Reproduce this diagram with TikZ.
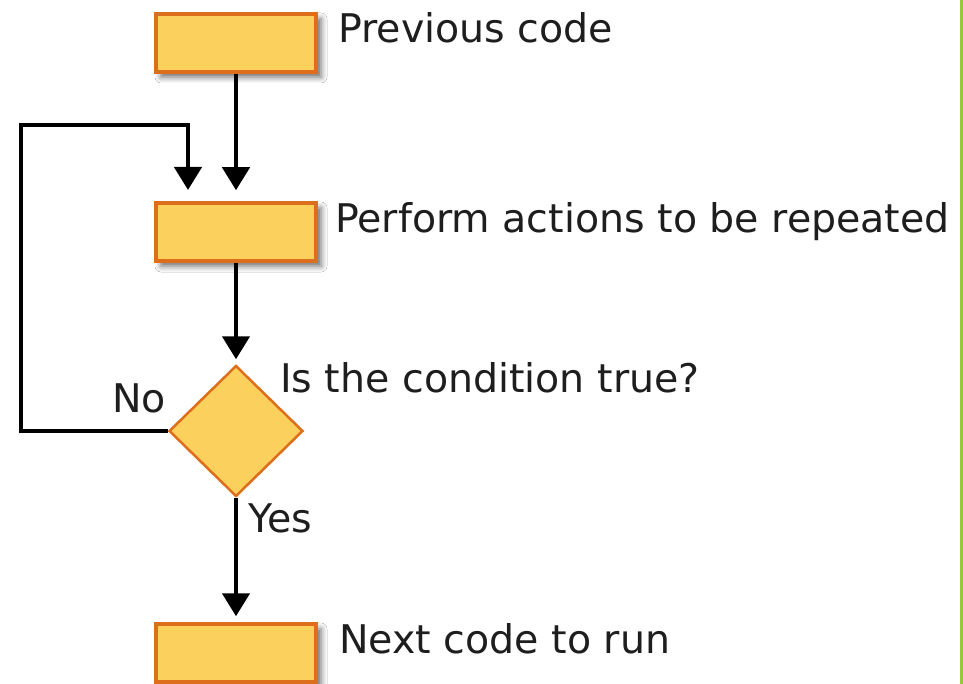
\documentclass[tikz,border=0pt]{standalone}
\usepackage{fontspec}
\setmainfont{DejaVu Sans}
\usetikzlibrary{arrows.meta,shapes.geometric,shadows.blur}
\definecolor{boxfill}{RGB}{252,208,92}
\definecolor{boxline}{RGB}{220,110,28}
\definecolor{txt}{RGB}{30,30,30}
\definecolor{edge}{RGB}{150,200,60}
\tikzset{
  box/.style={draw=boxline,fill=boxfill,line width=3.5pt,minimum width=160pt,minimum height=58pt,inner sep=0pt,
    blur shadow={shadow xshift=5pt,shadow yshift=-5pt,shadow blur radius=6pt,shadow opacity=60}},
  dia/.style={diamond,draw=boxline,fill=boxfill,line width=2.5pt,minimum width=134pt,minimum height=131pt,inner sep=0pt},
  arr/.style={line width=4.5pt,-{Triangle[width=27pt,length=23pt]}},
  lbl/.style={anchor=base west,inner sep=0pt,text=txt,font=\fontsize{39.5}{47}\selectfont}
}
\begin{document}
\begin{tikzpicture}[x=1pt,y=-1pt]
\useasboundingbox (0,0) rectangle (963,684);
\fill[white] (0,0) rectangle (963,684);
\draw[edge,line width=3pt] (961.5,0) -- (961.5,684);
\node[box] (b1) at (236,43) {};
\node[box] (b2) at (236,232) {};
\node[box] (b3) at (236,653) {};
\node[dia] (d) at (236,431) {};
\coordinate (lp1) at (21,430);
\coordinate (lp2) at (21,125);
\coordinate (lp3) at (188,125);
\coordinate (lp4) at (188,190);
\draw[arr] (b1.south) -- ([yshift=11pt]b2.north);
\draw[arr] (d.west) -- (d.west -| lp1) -- (lp2) -- (lp3) -- (lp4);
\draw[arr] (b2.south) -- ([yshift=5pt]d.north);
\draw[arr] (d.south) -- ([yshift=6pt]b3.north);
\node[lbl] (t1) at (338,43) {Previous code};
\node[lbl] (t2) at (335,233) {Perform actions to be repeated};
\node[lbl] (t3) at (280,392) {Is the condition true?};
\node[lbl] (t4) at (112,412) {No};
\node[lbl] (t5) at (248,532) {Yes};
\node[lbl] (t6) at (339,653) {Next code to run};
\end{tikzpicture}
\end{document}
